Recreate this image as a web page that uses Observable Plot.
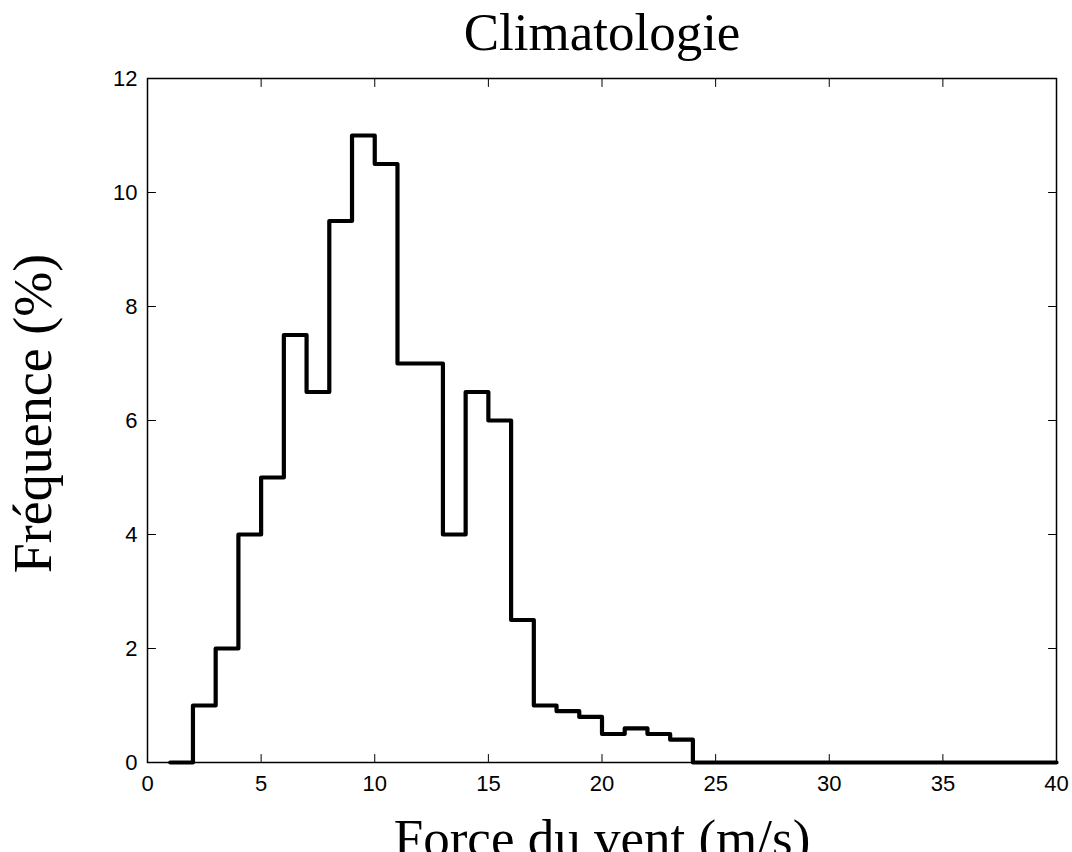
<!DOCTYPE html>
<html>
<head>
<meta charset="utf-8">
<script src="https://cdn.jsdelivr.net/npm/d3@7"></script>
<script src="https://cdn.jsdelivr.net/npm/@observablehq/plot@0.6"></script>
<style>
  html, body { margin: 0; padding: 0; background: #fff; overflow: hidden; }
  svg { display: block; }
</style>
</head>
<body>
<div id="chart"></div>
<script>
// Bin left edges (m/s) and frequencies (%)
const binEdges = [1, 2, 3, 4, 5, 6, 7, 8, 9, 10, 11, 12, 13, 14, 15, 16, 17, 18, 19, 20, 21, 22, 23, 24, 40];
const frequencies = [0, 1, 2, 4, 5, 7.5, 6.5, 9.5, 11, 10.5, 7, 7, 4, 6.5, 6, 2.5, 1, 0.9, 0.8, 0.5, 0.6, 0.5, 0.4, 0, 0];
const xTicks = [0, 5, 10, 15, 20, 25, 30, 35, 40];
const yTicks = [0, 2, 4, 6, 8, 10, 12];
const titleText = "Climatologie";
const xLabel = "Force du vent (m/s)";
const yLabel = "Fréquence (%)";

const data = binEdges.map((x, i) => ({x, y: frequencies[i]}));

const tickShape = {draw(context, l) { context.moveTo(0, 0); context.lineTo(0, -l); }};
const serif = "'Liberation Serif', 'Times New Roman', serif";

const chart = Plot.plot({
  width: 1072,
  height: 852,
  marginLeft: 147,
  marginRight: 16,
  marginTop: 78,
  marginBottom: 90,
  style: {fontFamily: "'Liberation Sans', Arial, sans-serif", fontSize: "22px", background: "#fff", color: "#000", overflow: "hidden"},
  x: {domain: [0, 40], label: null},
  y: {domain: [0, 12], label: null},
  marks: [
    Plot.axisX(xTicks, {tickSize: 0, tickPadding: 13, fontSize: 22, tickFormat: d => String(d)}),
    Plot.axisY(yTicks, {tickSize: 0, tickPadding: 10, fontSize: 22, tickFormat: d => String(d)}),
    Plot.vectorX(xTicks, {x: d => d, frameAnchor: "bottom", rotate: 0, length: 8, anchor: "start", shape: tickShape, stroke: "black", strokeWidth: 1}),
    Plot.vectorX(xTicks, {x: d => d, frameAnchor: "top", rotate: 180, length: 8, anchor: "start", shape: tickShape, stroke: "black", strokeWidth: 1}),
    Plot.vectorY(yTicks, {y: d => d, frameAnchor: "left", rotate: 90, length: 8, anchor: "start", shape: tickShape, stroke: "black", strokeWidth: 1}),
    Plot.vectorY(yTicks, {y: d => d, frameAnchor: "right", rotate: 270, length: 8, anchor: "start", shape: tickShape, stroke: "black", strokeWidth: 1}),
    Plot.frame({stroke: "black", strokeWidth: 1.5}),
    Plot.line(data, {x: "x", y: "y", curve: "step-after", stroke: "black", strokeWidth: 4.2}),
    Plot.text([titleText], {frameAnchor: "top", dy: -29, fontSize: 53, fontFamily: serif, lineAnchor: "bottom", textAnchor: "middle", text: d => d, fill: "black"}),
    Plot.text([xLabel], {frameAnchor: "bottom", dy: 93, fontSize: 53, fontFamily: serif, lineAnchor: "bottom", textAnchor: "middle", text: d => d, fill: "black"}),
    Plot.text([yLabel], {frameAnchor: "left", dx: -97, dy: -7, rotate: -90, fontSize: 54, fontFamily: serif, lineAnchor: "bottom", textAnchor: "middle", text: d => d, fill: "black"})
  ]
});
document.getElementById("chart").appendChild(chart);
</script>
</body>
</html>
